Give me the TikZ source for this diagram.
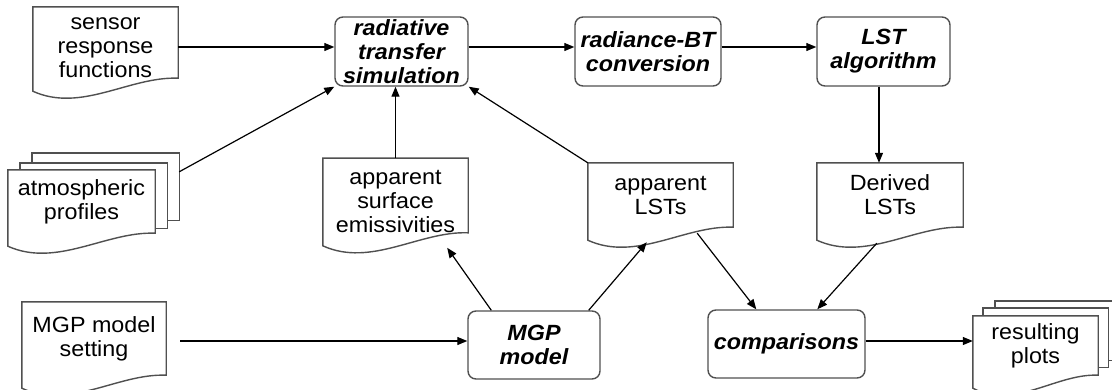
\documentclass[tikz,border=0pt]{standalone}
\usepackage{fontspec}
\setmainfont{Liberation Sans}[FakeStretch=1.06]
\usetikzlibrary{arrows.meta,calc,backgrounds}
\definecolor{bordc}{HTML}{505050}
\newcommand\docout[1]{%
  \path[outl] (#1.north west) -- (#1.north east) -- (#1.south east)
    .. controls ($(#1.south east)!0.333!(#1.south west)+(0,-2)$)
    and ($(#1.south east)!0.667!(#1.south west)+(0,35)$)
    .. ($(#1.south west)+(0,13)$) -- cycle;}
\begin{document}
\begin{tikzpicture}[x=1pt,y=-1pt,
  box/.style={draw=bordc, line width=1.4pt, rounded corners=8pt, align=center,
    font=\fontsize{22}{24}\selectfont\bfseries\itshape, inner sep=0pt},
  doc/.style={align=center, inner sep=0pt, font=\fontsize{22}{24}\selectfont},
  outl/.style={draw=bordc, line width=1.4pt, fill=white},
  arr/.style={draw=black, line width=1.2pt, -{Triangle[length=10pt,width=8pt]}},
]
\useasboundingbox (0,0) rectangle (1112,389);
% process boxes
\node[box, minimum width=133pt, minimum height=69pt] (rts) at (401.5,51.5) {radiative\\transfer\\simulation};
\node[box, minimum width=146pt, minimum height=69pt] (rbt) at (648,51.5) {radiance-BT\\conversion};
\node[box, minimum width=133pt, minimum height=69pt] (lst) at (883.5,51.5) {LST\\algorithm};
\node[box, minimum width=132pt, minimum height=68pt] (mgp) at (534,345) {MGP\\model};
\node[box, minimum width=157pt, minimum height=68pt] (comp) at (786.5,344) {comparisons};
% documents
\node[doc, minimum width=145pt, minimum height=71pt] (sensor) at (105.5,42.5) {\rule{0pt}{22pt}sensor\\response\\functions};
\node[doc, minimum width=147pt, minimum height=63pt] (atmo) at (81.5,201.5) {atmospheric\\profiles};
\node[doc, minimum width=145pt, minimum height=65pt] (emis) at (395.5,195.5) {\rule{0pt}{26pt}apparent\\surface\\emissivities};
\node[doc, minimum width=145pt, minimum height=64pt] (applst) at (660.5,195) {apparent\\LSTs};
\node[doc, minimum width=146pt, minimum height=64pt] (derived) at (890,195) {Derived\\LSTs};
\node[doc, minimum width=144pt, minimum height=73pt] (setting) at (94,338.5) {MGP model\\setting};
\node[doc, minimum width=125pt, minimum height=59pt] (plots) at (1035.5,345.5) {resulting\\plots};
\begin{pgfonlayer}{background}
  \path[outl] ([shift={(24,-17)}]atmo.north west) rectangle ([shift={(24,-13)}]atmo.south east);
  \path[outl] ([shift={(12,-7)}]atmo.north west) rectangle ([shift={(12,-5)}]atmo.south east);
  \path[outl] ([shift={(22,-15)}]plots.north west) rectangle ([shift={(30,-15)}]plots.south east);
  \path[outl] ([shift={(10,-8)}]plots.north west) rectangle ([shift={(10,-8)}]plots.south east);
  \docout{sensor}
  \docout{atmo}
  \docout{emis}
  \docout{applst}
  \docout{derived}
  \docout{setting}
  \docout{plots}
\end{pgfonlayer}
% helper coordinates
\coordinate (row1) at (0,47);
\coordinate (row3) at (0,341);
\coordinate (col) at (879,0);
\coordinate (atmoout) at ([shift={(24,2)}]atmo.north east);
\coordinate (setout) at ([xshift=14pt]setting.east);
\coordinate (lstout) at (lst.south -| col);
\coordinate (mgpl) at ([xshift=24pt]mgp.north west);
\coordinate (mgpr) at ([xshift=-12pt]mgp.north east);
\coordinate (emisin) at ([shift={(-21,15)}]emis.south east);
\coordinate (applstin) at ([shift={(59,15)}]applst.south west);
\coordinate (applstout) at ([shift={(-36,6)}]applst.south east);
\coordinate (derout) at ([shift={(60,16)}]derived.south west);
\coordinate (compl) at ([xshift=49pt]comp.north west);
\coordinate (compr) at ([xshift=110pt]comp.north west);
% connectors
\draw[arr] (sensor.east |- row1) -- (rts.west |- row1);
\draw[arr] (rts.east |- row1) -- (rbt.west |- row1);
\draw[arr] (rbt.east |- row1) -- (lst.west |- row1);
\draw[arr] (lstout) -- (lstout |- derived.north);
\draw[arr] (atmoout) -- (rts.south west);
\draw[arr] (emis.north) -- (emis.north |- rts.south);
\draw[arr] (applst.north west) -- (rts.south east);
\draw[arr] (setout |- row3) -- (mgp.west |- row3);
\draw[arr] (mgpl) -- (emisin);
\draw[arr] (mgpr) -- (applstin);
\draw[arr] (applstout) -- (compl);
\draw[arr] (derout) -- (compr);
\draw[arr] (comp.east |- row3) -- (plots.west |- row3);
\end{tikzpicture}
\end{document}
